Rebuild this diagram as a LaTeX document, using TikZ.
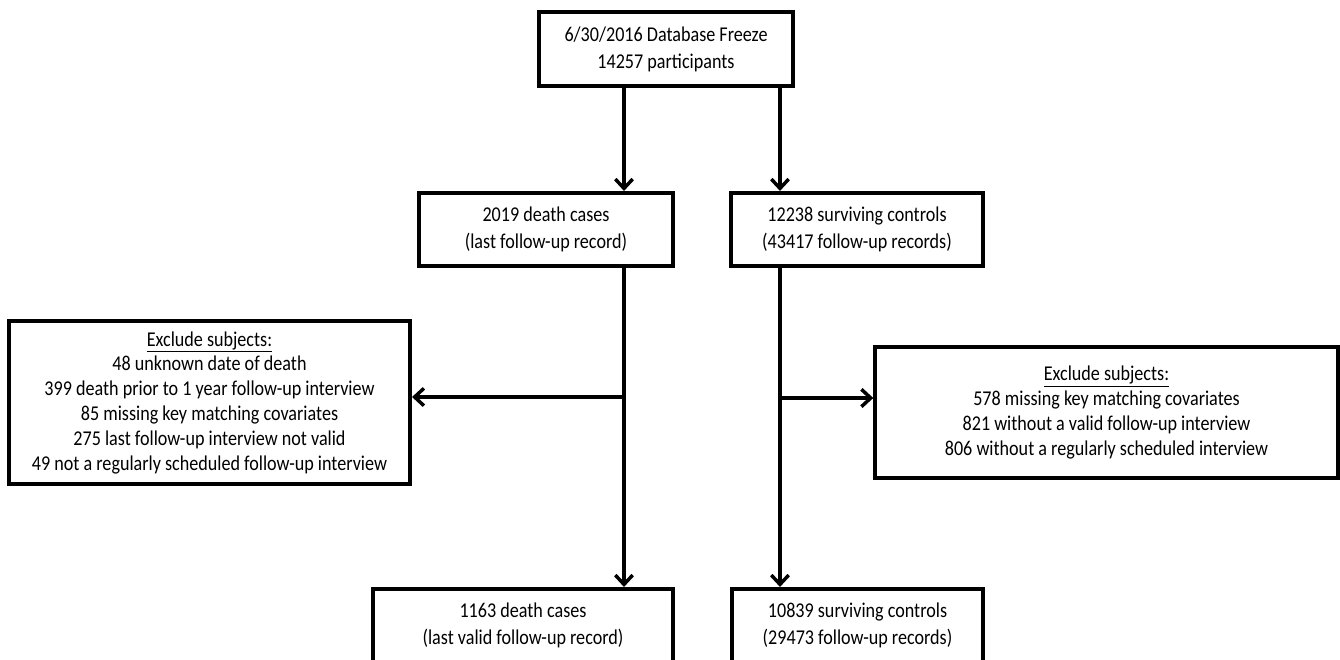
\documentclass[tikz,border=0pt]{standalone}
\usepackage{fontspec}
\setmainfont{Carlito}[FakeStretch=0.86]
\usepackage{tikz}
\usetikzlibrary{arrows.meta,positioning}

\begin{document}
\begin{tikzpicture}[
    x=0.75pt, y=-0.75pt,
    box/.style={draw, line width=2.8pt, align=center, inner sep=0pt,
      font=\fontsize{15.8}{18.6}\selectfont},
    count/.style={box, font=\fontsize{15.8}{20.2}\selectfont, minimum height=55pt},
    arr/.style={-{Straight Barb[length=7pt, width=13pt, line width=2.6pt]}, line width=2.6pt}
]
\useasboundingbox (0,0) rectangle (1340,660);
\clip (0,0) rectangle (1340,660);
% columns of the two branches
\coordinate (cl) at (624,0);
\coordinate (cr) at (780,0);
\node[count, minimum width=190pt] (freeze) at (666,49) {6/30/2016 Database Freeze\\ 14257 participants};
\node[count, minimum width=190pt] (death) at (546,229.5) {2019 death cases\\ (last follow-up record)};
\node[count, minimum width=189pt] (surv) at (857,229.5) {12238 surviving controls\\ (43417 follow-up records)};
\node[box, minimum width=301pt, minimum height=122pt] (exclL) at (209.5,402.5) {\underline{Exclude subjects:}\\ 48 unknown date of death\\ 399 death prior to 1 year follow-up interview\\ 85 missing key matching covariates\\ 275 last follow-up interview not valid\\ 49 not a regularly scheduled follow-up interview};
\node[box, minimum width=347pt, minimum height=98pt] (exclR) at (1106.5,412.5) {\underline{Exclude subjects:}\\ 578 missing key matching covariates\\ 821 without a valid follow-up interview\\ 806 without a regularly scheduled interview};
\node[count, minimum width=225pt] (fdeath) at (523,625.5) {1163 death cases\\ (last valid follow-up record)};
\node[count, minimum width=188pt] (fsurv) at (857.5,625.5) {10839 surviving controls\\ (29473 follow-up records)};
\coordinate (jl) at (624,397);
\coordinate (jr) at (780,398);
\draw[arr] (freeze.south -| cl) -- (death.north -| cl);
\draw[arr] (freeze.south -| cr) -- (surv.north -| cr);
\draw[arr] (death.south -| cl) -- (fdeath.north -| cl);
\draw[arr] (surv.south -| cr) -- (fsurv.north -| cr);
\draw[arr] (jl) -- (exclL.east |- jl);
\draw[arr] (jr) -- (exclR.west |- jr);
\end{tikzpicture}
\end{document}
